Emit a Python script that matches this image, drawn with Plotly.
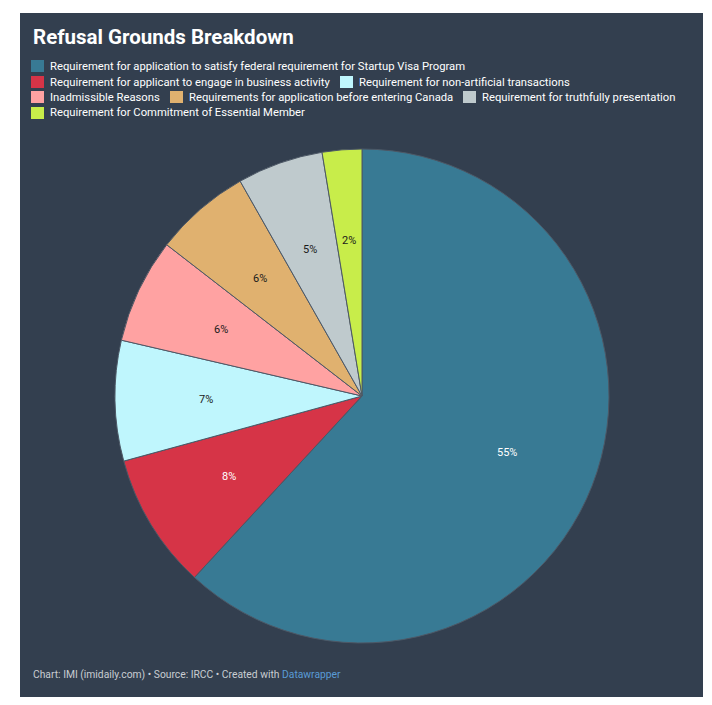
import math
import plotly.graph_objects as go

categories = [
    "Requirement for application to satisfy federal requirement for Startup Visa Program",
    "Requirement for applicant to engage in business activity",
    "Requirement for non-artificial transactions",
    "Inadmissible Reasons",
    "Requirements for application before entering Canada",
    "Requirement for truthfully presentation",
    "Requirement for Commitment of Essential Member",
]
values = [55.0, 7.9, 7.0, 6.1, 5.6, 5.0, 2.3]
colors = ["#387a94", "#d63447", "#bff6fd", "#ffa2a2", "#e0b16f", "#bfcacd", "#c8ed4a"]
text_colors = ["#ffffff", "#ffffff", "#1a1a1a", "#1a1a1a", "#1a1a1a", "#1a1a1a", "#1a1a1a"]

title = "Refusal Grounds Breakdown"
footer = ("Chart: IMI (imidaily.com) • Source: IRCC • Created with "
          "<span style='color:#5a9bd5'>Datawrapper</span>")

# page has an 8px body margin; positions below are given in page pixels
OFF = 8
W, H = 696, 689
PANEL = "#333f4f"
FONT = "Roboto"


def px(x):
    return (x - OFF) / W


def py(y):
    return 1 - (y - OFF) / H


# pie geometry (page pixels)
CX, CY, R = 362, 396, 247
LABEL_R = 0.63

fig = go.Figure()
fig.add_trace(go.Pie(
    labels=categories,
    values=values,
    sort=False,
    direction="clockwise",
    rotation=0,
    marker=dict(colors=colors, line=dict(color="#4d5866", width=1)),
    textinfo="none",
    showlegend=False,
    hoverinfo="label+value",
    domain=dict(x=[px(CX - R), px(CX + R)], y=[py(CY + R), py(CY - R)]),
))

shapes = [dict(type="rect", xref="paper", yref="paper",
               x0=px(20), x1=px(703), y0=py(697), y1=py(13),
               fillcolor=PANEL, line=dict(width=0), layer="below")]
annotations = [
    dict(text="<b>" + title + "</b>", xref="paper", yref="paper",
         x=px(31), y=py(37), xanchor="left", yanchor="middle", showarrow=False,
         font=dict(family=FONT, size=20.5, color="#ffffff")),
    dict(text=footer, xref="paper", yref="paper",
         x=px(31), y=py(674), xanchor="left", yanchor="middle", showarrow=False,
         font=dict(family=FONT, size=10.3, color="#c9cdd2")),
]

# slice value labels at each slice's mid-angle
total = sum(values)
cum = 0
for v, tc in zip(values, text_colors):
    mid = (cum + v / 2) / total * 2 * math.pi
    cum += v
    lx = CX + LABEL_R * R * math.sin(mid)
    ly = CY - LABEL_R * R * math.cos(mid)
    annotations.append(dict(text=f"{round(v)}%", xref="paper", yref="paper",
                            x=px(lx), y=py(ly), xanchor="center", yanchor="middle",
                            showarrow=False,
                            font=dict(family=FONT, size=11, color=tc)))

# legend layout (row y-centre, square x-left) in page pixels
legend_pos = [(66, 31), (82, 31), (82, 340), (97, 31), (97, 170), (97, 463), (113, 31)]
for (yc, xl), cat, col in zip(legend_pos, categories, colors):
    shapes.append(dict(type="rect", xref="paper", yref="paper",
                       x0=px(xl), x1=px(xl + 13), y0=py(yc + 6), y1=py(yc - 6),
                       fillcolor=col, line=dict(width=0)))
    annotations.append(dict(text=cat, xref="paper", yref="paper",
                            x=px(xl + 17), y=py(yc), xanchor="left", yanchor="middle",
                            showarrow=False,
                            font=dict(family=FONT, size=11.25, color="#ffffff")))

fig.update_layout(
    width=W, height=H,
    margin=dict(l=0, r=0, t=0, b=0),
    paper_bgcolor="#ffffff",
    plot_bgcolor="#ffffff",
    shapes=shapes,
    annotations=annotations,
    font=dict(family=FONT),
)

fig.write_html("out.html")
